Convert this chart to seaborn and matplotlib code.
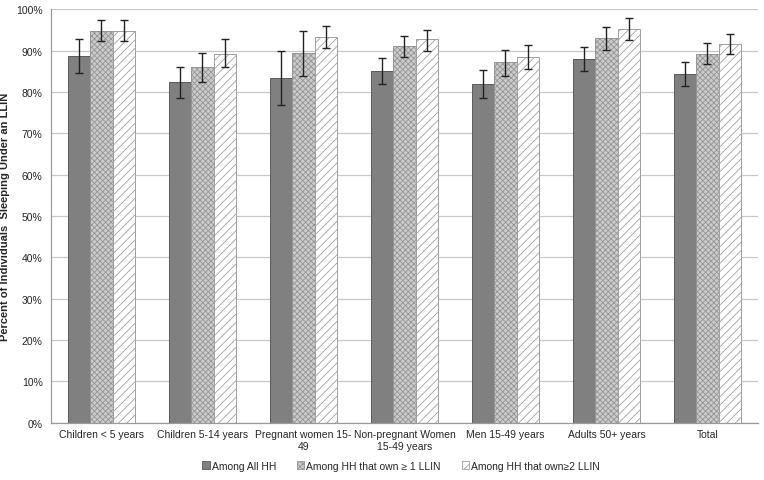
import numpy as np
import pandas as pd
import matplotlib
matplotlib.use("Agg")
import matplotlib.pyplot as plt
from matplotlib.patches import Patch
from matplotlib.ticker import PercentFormatter, FixedLocator
import seaborn as sns

# Data (percent)
groups = ["Children < 5 years", "Children 5-14 years", "Pregnant women 15-\n49",
          "Non-pregnant Women\n15-49 years", "Men 15-49 years", "Adults 50+ years", "Total"]
series = ["Among All HH", "Among HH that own \u2265 1 LLIN", "Among HH that own\u22652 LLIN"]

all_hh = [88.7, 82.3, 83.3, 85.1, 82.0, 87.9, 84.3]
all_hh_lo = [84.5, 78.5, 76.8, 81.9, 78.6, 85.0, 81.4]
all_hh_hi = [92.7, 86.0, 89.8, 88.1, 85.3, 90.8, 87.3]

own1 = [94.8, 86.0, 89.4, 91.0, 87.2, 93.0, 89.3]
own1_lo = [92.3, 82.4, 83.8, 88.4, 83.9, 90.2, 86.7]
own1_hi = [97.4, 89.4, 94.7, 93.6, 90.2, 95.6, 91.8]

own2 = [94.8, 89.3, 93.2, 92.7, 88.4, 95.2, 91.5]
own2_lo = [92.3, 86.0, 90.6, 89.8, 85.5, 92.6, 89.1]
own2_hi = [97.4, 92.7, 95.9, 95.1, 91.3, 97.8, 94.0]

values = [all_hh, own1, own2]
lows = [all_hh_lo, own1_lo, own2_lo]
highs = [all_hh_hi, own1_hi, own2_hi]

df = pd.DataFrame({
    "group": groups * 3,
    "series": np.repeat(series, len(groups)),
    "pct": all_hh + own1 + own2,
})

sns.set_style("white")
plt.rcParams["font.family"] = ["Liberation Sans", "DejaVu Sans"]
plt.rcParams["hatch.linewidth"] = 0.6

fig = plt.figure(figsize=(7.64, 4.81), dpi=100)
ax = fig.add_axes([0.0667, 0.1195, 0.9253, 0.8591])

sns.barplot(data=df, x="group", y="pct", hue="series", order=groups, hue_order=series,
            width=0.66, gap=0, errorbar=None, legend=False, ax=ax)

styles = [
    dict(facecolor="#808080", edgecolor="#5a5a5a", hatch=None),
    dict(facecolor="#cccccc", edgecolor="#959595", hatch="xxxxxx"),
    dict(facecolor="white", edgecolor="#a0a0a0", hatch="////"),
]

for cont, st, v, lo, hi in zip(ax.containers, styles, values, lows, highs):
    xs = []
    for bar in cont:
        bar.set_facecolor(st["facecolor"])
        bar.set_edgecolor(st["edgecolor"])
        bar.set_linewidth(0.7)
        if st["hatch"]:
            bar.set_hatch(st["hatch"])
        xs.append(bar.get_x() + bar.get_width() / 2)
    v = np.array(v)
    yerr = [v - np.array(lo), np.array(hi) - v]
    ax.errorbar(xs, v, yerr=yerr, fmt="none", ecolor="#222222", elinewidth=1.0,
                capsize=2.6, capthick=1.0, zorder=5)

ax.set_ylim(0, 100)
ax.set_xlim(-0.5, len(groups) - 0.5)
ax.yaxis.set_major_locator(FixedLocator(np.arange(0, 101, 10)))
ax.yaxis.set_major_formatter(PercentFormatter(decimals=0))
ax.grid(axis="y", color="#c8c8c8", linewidth=0.9)
ax.set_axisbelow(True)

for s in ["top", "right"]:
    ax.spines[s].set_visible(False)
for s in ["left", "bottom"]:
    ax.spines[s].set_color("#9a9a9a")
    ax.spines[s].set_linewidth(0.9)

ax.tick_params(axis="x", which="major", length=0, labelsize=7.5, pad=5)
ax.xaxis.set_minor_locator(FixedLocator(np.arange(-0.5, len(groups), 1)))
ax.tick_params(axis="x", which="minor", length=4, color="#9a9a9a", width=0.9)
ax.tick_params(axis="y", length=4, color="#9a9a9a", width=0.9, labelsize=7.5, pad=2)

ax.set_xlabel("")
ax.set_ylabel("Percent of Individuals  Sleeping Under an LLIN", fontsize=8, fontweight="bold")

handles = [Patch(facecolor=st["facecolor"], edgecolor=st["edgecolor"], hatch=st["hatch"], linewidth=0.6)
           for st in styles]
fig.legend(handles, series, loc="lower center", bbox_to_anchor=(0.525, 0.0), ncol=3,
           frameon=False, fontsize=7.5, handlelength=0.7, handleheight=0.7,
           handletextpad=0.2, columnspacing=2.0)

fig.savefig("out.png", dpi=100)
